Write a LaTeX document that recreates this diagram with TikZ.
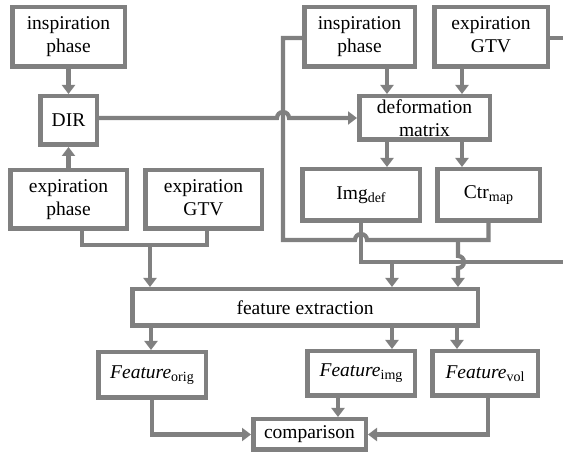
\documentclass[tikz,border=0pt]{standalone}
\usepackage{fontspec}
\setmainfont{Liberation Serif}
\usetikzlibrary{arrows.meta}
\definecolor{lgray}{RGB}{128,128,128}
\newcommand\sbx[1]{\raisebox{-0.35ex}{\fontsize{14}{14}\selectfont #1}}
\begin{document}
\begin{tikzpicture}[x=1pt,y=-1pt,
  box/.style={draw=lgray,line width=4.5pt,fill=white,inner sep=0pt,align=center,
    font=\fontsize{19.5}{23}\selectfont},
  conn/.style={draw=lgray,line width=4.2pt},
  arr/.style={conn,-{Triangle[length=9pt,width=13pt]}}]
\useasboundingbox (0,0) rectangle (563,454);
% boxes
\node[box,minimum width=112.5pt,minimum height=59.5pt] (ip1) at (68.5,37) {inspiration\\phase};
\node[box,minimum width=56.5pt,minimum height=48.5pt] (dir) at (68.5,120.5) {DIR};
\node[box,minimum width=116.5pt,minimum height=58.5pt] (ep) at (68.5,199.5) {expiration\\phase};
\node[box,minimum width=116.5pt,minimum height=58.5pt] (eg1) at (203.5,199.5) {expiration\\GTV\vphantom{p}};
\node[box,minimum width=110.5pt,minimum height=59.5pt] (ip2) at (359.5,37) {inspiration\\phase};
\node[box,minimum width=113.5pt,minimum height=59.5pt] (eg2) at (491,37) {expiration\\GTV\vphantom{p}};
\node[box,minimum width=130.5pt,minimum height=43.5pt] (dm) at (424.5,118) {deformation\\matrix};
\node[box,minimum width=117.5pt,minimum height=51.5pt] (img) at (361,195) {Img\sbx{def}};
\node[box,minimum width=102.5pt,minimum height=51.5pt] (ctr) at (488.5,195) {Ctr\sbx{map}};
\node[box,minimum width=345.5pt,minimum height=36.5pt] (fe) at (305,307.5) {feature extraction};
\node[box,minimum width=107.5pt,minimum height=45.5pt] (fo) at (152,375) {\textit{Feature}\sbx{orig}};
\node[box,minimum width=107.5pt,minimum height=44.5pt] (fi) at (361,373.5) {\textit{Feature}\sbx{img}};
\node[box,minimum width=105.5pt,minimum height=44.5pt] (fv) at (485,373.5) {\textit{Feature}\sbx{vol}};
\node[box,minimum width=112.5pt,minimum height=30.5pt] (cmp) at (309.5,434.5) {comparison};
\coordinate (edgeA) at (563,38);
\coordinate (edgeB) at (563,262);
% left part
\draw[arr] (ip1.south) -- (dir.north);
\draw[arr] (ep.north) -- (dir.south);
\draw[arr] (dir.east |- dm.west) -- (277,118) arc[start angle=180,end angle=360,radius=6] -- (dm.west);
\draw[conn] (ep.south -| 82,0) -- (82,245) -| (eg1.south -| 207,0);
\draw[arr] (150,245) -- (fe.north -| 150,0);
% right top
\draw[arr] (ip2.south -| 387,0) -- (dm.north -| 387,0);
\draw[arr] (eg2.south -| 462,0) -- (dm.north -| 462,0);
\draw[arr] (dm.south -| 387,0) -- (img.north -| 387,0);
\draw[arr] (dm.south -| 462,0) -- (ctr.north -| 462,0);
% loops
\draw[conn] (ip2.west |- 0,38) -| (283,240) -- (355,240) arc[start angle=180,end angle=360,radius=6] -- (ctr.south |- 0,240) -- (ctr.south);
\draw[conn] (img.south) -- (361,262) -- (edgeB);
\draw[conn] (eg2.east |- edgeA) -- (edgeA);
\draw[arr] (458,240) -- (458,256) arc[start angle=-90,end angle=90,radius=6] -- (fe.north -| 458,0);
\draw[arr] (392,262) -- (fe.north -| 392,0);
% bottom
\draw[arr] (fe.south -| 151,0) -- (fo.north -| 151,0);
\draw[arr] (fe.south -| 392,0) -- (fi.north -| 392,0);
\draw[arr] (fe.south -| 457,0) -- (fv.north -| 457,0);
\draw[arr] (fo.south) |- (cmp.west);
\draw[arr] (fi.south -| 338,0) -- (cmp.north -| 338,0);
\draw[arr] (fv.south -| 488,0) |- (cmp.east);
\end{tikzpicture}
\end{document}
